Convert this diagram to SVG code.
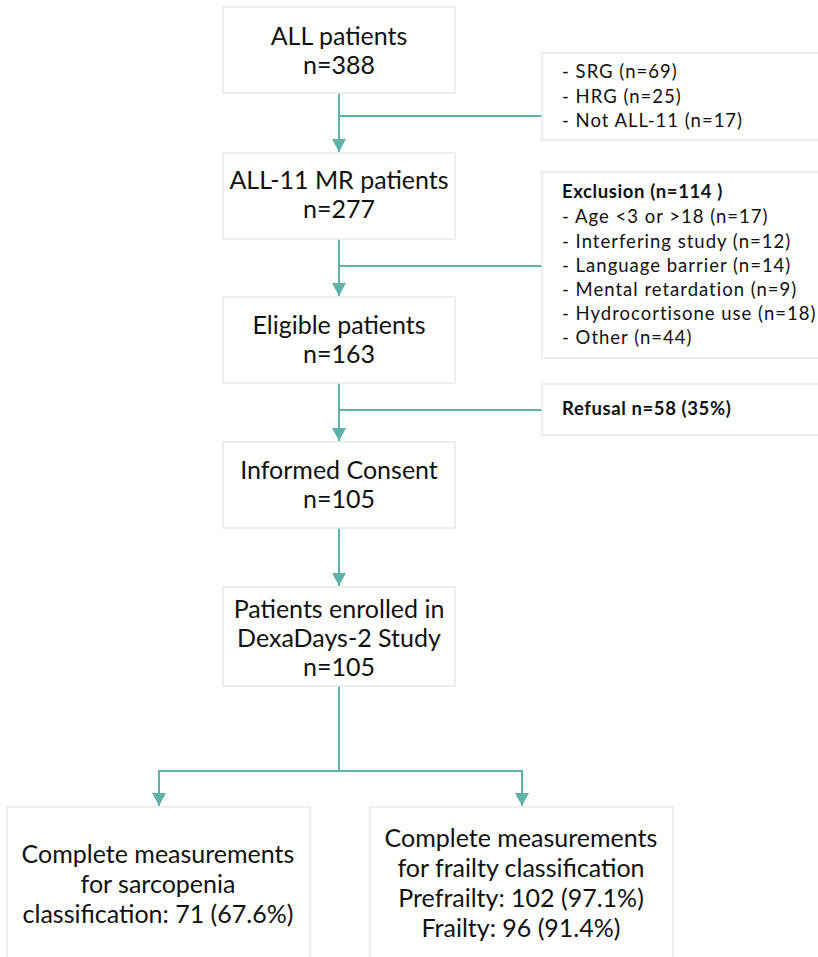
<svg xmlns="http://www.w3.org/2000/svg" width="818" height="957" viewBox="0 0 818 957">
<defs>
<style>
.box{fill:#fff;stroke:#e7e9eb;stroke-width:1.5}
.t{font-family:Lato,"Noto Sans",sans-serif;font-size:25px;fill:#111;text-anchor:middle}
.s{font-family:Lato,"Noto Sans",sans-serif;font-size:18.5px;fill:#111;letter-spacing:1px}
.b{font-weight:bold;letter-spacing:0.6px}
.c{fill:none;stroke:#5fb2a8;stroke-width:2}
</style>
<marker id="ah" markerWidth="14" markerHeight="14" refX="13" refY="7" orient="auto" markerUnits="userSpaceOnUse">
<path d="M0,0 L13,7 L0,14 Z" fill="#5fb2a8"/>
</marker>
</defs>
<rect width="818" height="957" fill="#fff"/>
<g id="connectors">
<path class="c" d="M339,93 V152" marker-end="url(#ah)"/>
<path class="c" d="M339,116 H542"/>
<path class="c" d="M339,239 V296" marker-end="url(#ah)"/>
<path class="c" d="M339,266 H542"/>
<path class="c" d="M339,383 V441" marker-end="url(#ah)"/>
<path class="c" d="M339,410 H542"/>
<path class="c" d="M339,528 V586" marker-end="url(#ah)"/>
<path class="c" d="M339,686 V771"/>
<path class="c" d="M159,771 H522"/>
<path class="c" d="M159,770 V806" marker-end="url(#ah)"/>
<path class="c" d="M522,770 V806" marker-end="url(#ah)"/>
</g>
<g id="n1">
<rect class="box" x="223" y="7" width="232" height="86"/>
<text class="t" x="339" y="45">ALL patients</text>
<text class="t" x="339" y="74">n=388</text>
</g>
<g id="s1">
<rect class="box" x="542" y="53" width="290" height="87"/>
<text class="s" x="562" y="78">- SRG (n=69)</text>
<text class="s" x="562" y="103">- HRG (n=25)</text>
<text class="s" x="562" y="127">- Not ALL-11 (n=17)</text>
</g>
<g id="n2">
<rect class="box" x="223" y="153" width="232" height="86"/>
<text class="t" x="339" y="189">ALL-11 MR patients</text>
<text class="t" x="339" y="218">n=277</text>
</g>
<g id="s2">
<rect class="box" x="542" y="172" width="290" height="186"/>
<text class="s b" x="562" y="198">Exclusion (n=114 )</text>
<text class="s" x="562" y="223">- Age &lt;3 or &gt;18 (n=17)</text>
<text class="s" x="562" y="248">- Interfering study (n=12)</text>
<text class="s" x="562" y="272">- Language barrier (n=14)</text>
<text class="s" x="562" y="296">- Mental retardation (n=9)</text>
<text class="s" x="562" y="320">- Hydrocortisone use (n=18)</text>
<text class="s" x="562" y="344">- Other (n=44)</text>
</g>
<g id="n3">
<rect class="box" x="223" y="297" width="232" height="86"/>
<text class="t" x="339" y="334">Eligible patients</text>
<text class="t" x="339" y="363">n=163</text>
</g>
<g id="s3">
<rect class="box" x="542" y="384" width="290" height="51"/>
<text class="s b" x="562" y="415">Refusal n=58 (35%)</text>
</g>
<g id="n4">
<rect class="box" x="223" y="442" width="232" height="86"/>
<text class="t" x="339" y="479">Informed Consent</text>
<text class="t" x="339" y="508">n=105</text>
</g>
<g id="n5">
<rect class="box" x="223" y="587" width="232" height="99"/>
<text class="t" x="339" y="618">Patients enrolled in</text>
<text class="t" x="339" y="647">DexaDays-2 Study</text>
<text class="t" x="339" y="676">n=105</text>
</g>
<g id="n6">
<rect class="box" x="7" y="807" width="303" height="170"/>
<text class="t" x="158" y="863">Complete measurements</text>
<text class="t" x="158" y="893">for sarcopenia</text>
<text class="t" x="158" y="923">classification: 71 (67.6%)</text>
</g>
<g id="n7">
<rect class="box" x="370" y="807" width="303" height="170"/>
<text class="t" x="521" y="847">Complete measurements</text>
<text class="t" x="521" y="877">for frailty classification</text>
<text class="t" x="521" y="907">Prefrailty: 102 (97.1%)</text>
<text class="t" x="521" y="937">Frailty: 96 (91.4%)</text>
</g>
</svg>
